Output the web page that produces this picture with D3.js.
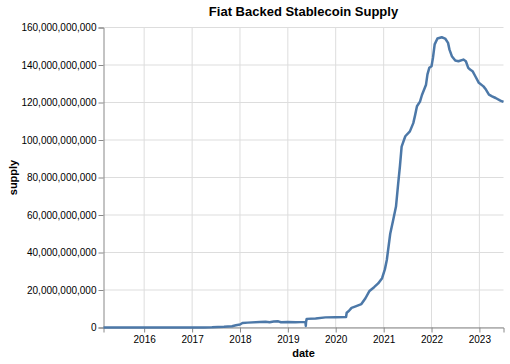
<!DOCTYPE html>
<html>
<head>
<meta charset="utf-8">
<script src="https://cdn.jsdelivr.net/npm/d3@7"></script>
<style>
  body { margin: 0; background: white; }
  text { font-family: "Liberation Sans", Arial, sans-serif; }
</style>
</head>
<body>
<div id="chart"></div>
<script>
// supply data (billions of USD)
const dates = [
  "2015-02-25","2016-01-01","2016-10-01","2017-01-01","2017-04-01","2017-06-01","2017-09-01","2017-11-01",
  "2017-12-01","2018-01-01","2018-01-20","2018-03-01","2018-06-01","2018-07-15","2018-08-15","2018-09-15",
  "2018-10-20","2018-11-10","2019-01-01","2019-03-01","2019-05-15","2019-05-18","2019-05-20","2019-05-25",
  "2019-08-01","2019-10-15","2020-01-01","2020-03-20","2020-03-25","2020-04-10","2020-05-01","2020-06-01",
  "2020-07-15","2020-08-15","2020-09-15","2020-10-20","2020-11-20","2020-12-20","2021-01-10","2021-01-25",
  "2021-02-20","2021-03-15","2021-04-05","2021-04-22","2021-05-05","2021-05-18","2021-06-15","2021-07-20",
  "2021-08-15","2021-08-28","2021-09-12","2021-10-05","2021-10-20","2021-11-20","2021-12-01","2021-12-15",
  "2022-01-01","2022-01-12","2022-01-25","2022-02-15","2022-03-20","2022-04-15","2022-05-07","2022-05-18",
  "2022-06-05","2022-07-01","2022-07-25","2022-09-01","2022-09-20","2022-10-08","2022-10-22","2022-11-10",
  "2022-12-01","2022-12-28","2023-02-01","2023-02-20","2023-03-15","2023-04-08","2023-05-05","2023-06-10",
  "2023-07-04"
];
const supplyB = [
  0.0, 0.005, 0.01, 0.01, 0.05, 0.1, 0.4, 0.7,
  1.2, 1.6, 2.4, 2.6, 2.9, 3.1, 2.8, 3.2,
  3.3, 2.8, 2.9, 2.8, 3.0, 0.8, 3.0, 4.6,
  4.8, 5.4, 5.5, 5.6, 7.9, 8.8, 10.5, 11.3,
  12.5, 15.6, 19.5, 21.5, 23.5, 26.3, 31, 36,
  50, 57.5, 64.5, 77, 86, 96.5, 102, 104.6,
  109, 113, 118, 120.5, 124, 129.5, 135, 138.5,
  139.3, 143.8, 151, 154.1, 154.8, 154.1, 151.8, 148.2,
  144.7, 142.4, 142, 142.9, 142, 138.5, 137.6, 136.7,
  134, 130.5, 128.6, 126.9, 124.2, 123.3, 122.4, 121,
  120.3
];
const yTicks = [0, 20e9, 40e9, 60e9, 80e9, 100e9, 120e9, 140e9, 160e9];

const data = dates.map((d, i) => ({date: d3.timeParse("%Y-%m-%d")(d), supply: supplyB[i] * 1e9}));

const margin = {top: 27.5, right: 6.5, bottom: 36.5, left: 103.5},
  width = 400,
  height = 300;

const svg = d3.select("#chart")
  .append("svg")
  .attr("width", 510)
  .attr("height", 364)
  .append("g")
  .attr("transform", `translate(${margin.left},${margin.top})`);

const x = d3.scaleTime()
  .domain(d3.extent(data, d => d.date))
  .range([0, width]);

const y = d3.scaleLinear()
  .domain([0, 160e9])
  .range([height, 0]);

// grid
svg.append("g")
  .selectAll("line.xg")
  .data(x.ticks(d3.timeYear.every(1)))
  .join("line")
  .attr("x1", d => x(d)).attr("x2", d => x(d))
  .attr("y1", 0).attr("y2", height)
  .attr("stroke", "#ddd");

svg.append("g")
  .selectAll("line.yg")
  .data(yTicks)
  .join("line")
  .attr("x1", 0).attr("x2", width)
  .attr("y1", d => y(d)).attr("y2", d => y(d))
  .attr("stroke", "#ddd");

// axes
const xAxis = svg.append("g")
  .attr("transform", `translate(0,${height})`)
  .call(d3.axisBottom(x).ticks(d3.timeYear.every(1)).tickFormat(d3.timeFormat("%Y")).tickSize(5).tickPadding(3));

const yAxis = svg.append("g")
  .call(d3.axisLeft(y).tickValues(yTicks).tickFormat(d3.format(",")).tickSize(5).tickPadding(2));

[xAxis, yAxis].forEach(a => {
  a.select(".domain").attr("stroke", "#888");
  a.selectAll(".tick line").attr("stroke", "#888");
  a.selectAll("text")
    .style("font-size", "10px")
    .style("font-family", "'Liberation Sans', Arial, sans-serif")
    .attr("fill", "#000");
});

// line
svg.append("path")
  .datum(data)
  .attr("fill", "none")
  .attr("stroke", "#4c78a8")
  .attr("stroke-width", 2.5)
  .attr("stroke-linejoin", "round")
  .attr("d", d3.line().x(d => x(d.date)).y(d => y(d.supply)));

// titles
svg.append("text")
  .attr("x", width / 2)
  .attr("y", -12)
  .attr("text-anchor", "middle")
  .style("font-size", "13px")
  .attr("font-weight", "bold")
  .text("Fiat Backed Stablecoin Supply");

svg.append("text")
  .attr("x", width / 2)
  .attr("y", height + 29.5)
  .attr("text-anchor", "middle")
  .style("font-size", "11px")
  .attr("font-weight", "bold")
  .text("date");

svg.append("text")
  .attr("transform", "rotate(-90)")
  .attr("x", -height / 2)
  .attr("y", -87)
  .attr("text-anchor", "middle")
  .style("font-size", "11px")
  .attr("font-weight", "bold")
  .text("supply");
</script>
</body>
</html>
